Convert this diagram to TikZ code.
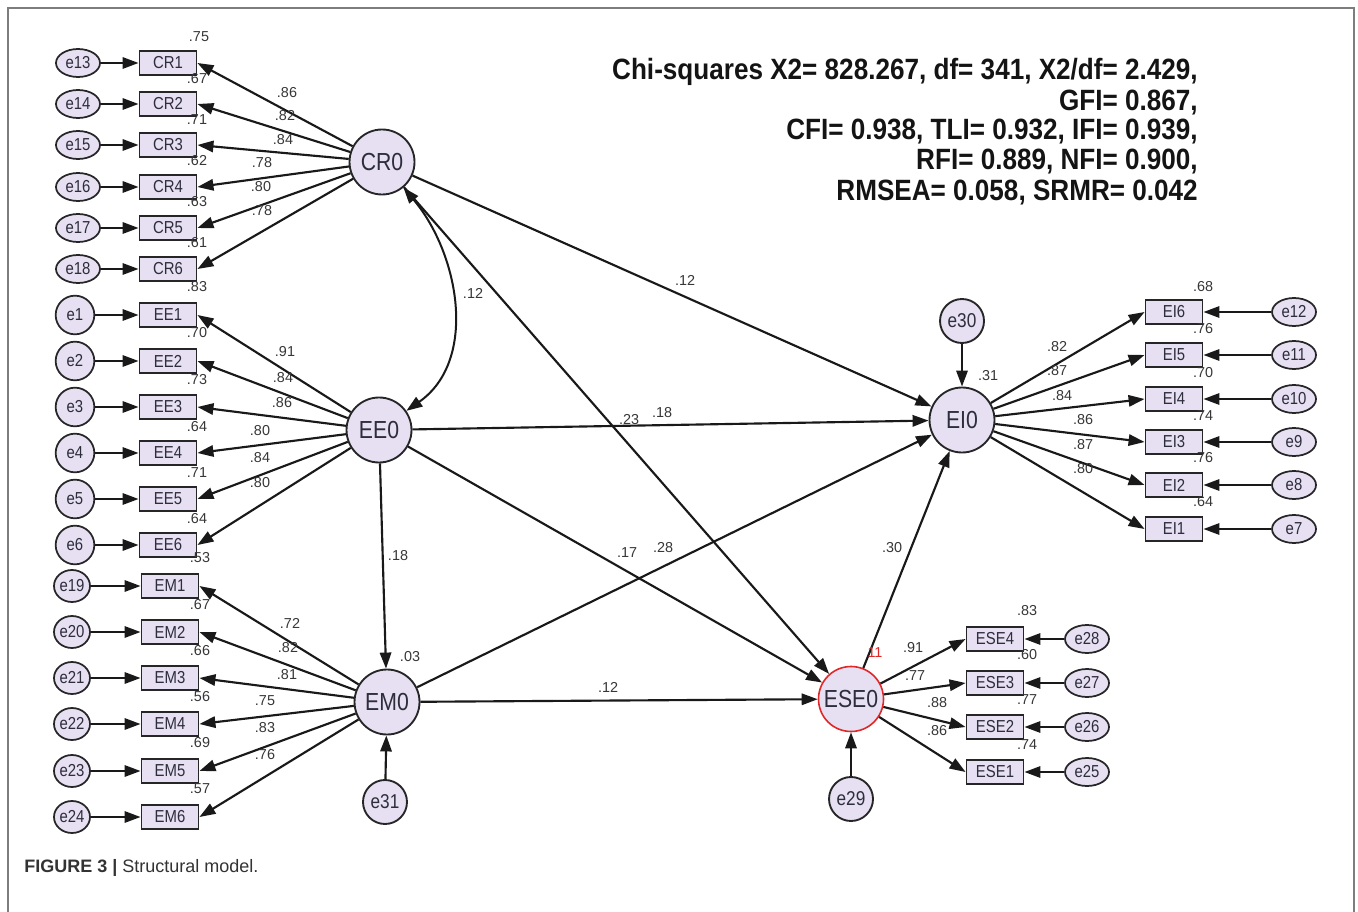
\documentclass[tikz,border=0pt]{standalone}
\usepackage{fontspec}
\setmainfont{Liberation Sans}
\newfontfamily\narrowfont[FakeStretch=0.86]{Liberation Sans}
\newfontfamily\fitfont[FakeStretch=0.89]{Liberation Sans}
\usetikzlibrary{arrows.meta,shapes.geometric}
\definecolor{nodefill}{RGB}{231,223,242}
\definecolor{txt}{RGB}{45,45,60}
\definecolor{labtxt}{RGB}{55,55,55}
\definecolor{framegray}{RGB}{125,125,125}
\definecolor{redamos}{RGB}{225,40,40}
\newcommand\numlab[3]{\node[numlab] (#1) at (#2) {#3};}
\begin{document}
\begin{tikzpicture}[x=0.75pt,y=-0.75pt,
  lat/.style={circle,draw=black!85,line width=1.4pt,fill=nodefill,minimum size=48.75pt,inner sep=0pt,font=\narrowfont\fontsize{18.5}{19}\selectfont,text=txt},
  obs/.style={rectangle,draw=black!85,line width=1.4pt,fill=nodefill,minimum width=42.75pt,minimum height=18pt,inner sep=0pt,font=\narrowfont\fontsize{13}{13}\selectfont,text=txt},
  errell/.style={ellipse,draw=black!85,line width=1.3pt,fill=nodefill,minimum width=33pt,minimum height=21pt,inner sep=0pt,font=\narrowfont\fontsize{13}{13}\selectfont,text=txt},
  errcirc/.style={circle,draw=black!85,line width=1.3pt,fill=nodefill,minimum size=29pt,inner sep=0pt,font=\narrowfont\fontsize{13}{13}\selectfont,text=txt},
  errsm/.style={ellipse,draw=black!85,line width=1.3pt,fill=nodefill,minimum width=27pt,minimum height=24pt,inner sep=0pt,font=\narrowfont\fontsize{13}{13}\selectfont,text=txt},
  errbig/.style={circle,draw=black!85,line width=1.4pt,fill=nodefill,minimum size=33pt,inner sep=0pt,font=\narrowfont\fontsize{15}{15}\selectfont,text=txt},
  numlab/.style={font=\fontsize{10.8}{11}\selectfont,text=labtxt,inner sep=0pt},
  arr/.style={line width=1.6pt,draw=black!90,-{Triangle[length=12pt,width=8.5pt]}},
  darr/.style={line width=1.5pt,draw=black!90,{Triangle[length=12pt,width=8.5pt]}-{Triangle[length=12pt,width=8.5pt]}},
  fit/.style={font=\fitfont\bfseries\fontsize{22}{22}\selectfont,text=black!92,inner sep=0pt,anchor=east}
]
\useasboundingbox (0,0) rectangle (1358,912);
\fill[white] (0,0) rectangle (1358,912);
% frame
\draw[framegray,line width=1.5pt] (8,912) -- (8,8) -- (1354,8) -- (1354,912);

% latent variables
\node[lat] (CR0) at (382,162) {CR0};
\node[lat] (EE0) at (379,430) {EE0};
\node[lat] (EM0) at (387,702) {EM0};
\node[lat] (EI0) at (962,420) {EI0};
\node[lat,draw=redamos,line width=1.2pt] (ESE0) at (851,699) {ESE0};
\node[errbig] (e30) at (962,321) {e30};
\node[errbig] (e31) at (385,802) {e31};
\node[errbig] (e29) at (851,799) {e29};

% CR block
\foreach \i/\y/\e in {1/63/e13,2/104/e14,3/145/e15,4/187/e16,5/228/e17,6/269/e18}{
  \node[obs] (CR\i) at (168,\y) {CR\i};
  \node[errell] (\e) at (78,\y) {\e};
  \draw[arr] (\e) -- (CR\i.west);
  \draw[arr] (CR0) -- (CR\i.east);
}
% EE block
\foreach \i/\y in {1/315,2/361,3/407,4/453,5/499,6/545}{
  \node[obs] (EE\i) at (168,\y) {EE\i};
  \node[errcirc] (e\i) at (75,\y) {e\i};
  \draw[arr] (e\i) -- (EE\i.west);
  \draw[arr] (EE0) -- (EE\i.east);
}
% EM block
\foreach \i/\y/\e in {1/586/e19,2/632/e20,3/678/e21,4/724/e22,5/771/e23,6/817/e24}{
  \node[obs] (EM\i) at (170,\y) {EM\i};
  \node[errsm] (\e) at (72,\y) {\e};
  \draw[arr] (\e) -- (EM\i.west);
  \draw[arr] (EM0) -- (EM\i.east);
}
% EI block
\foreach \i/\y/\e in {6/312/e12,5/355/e11,4/399/e10,3/442/e9,2/485/e8,1/529/e7}{
  \node[obs] (EI\i) at (1174,\y) {EI\i};
  \node[errell] (\e) at (1294,\y) {\e};
  \draw[arr] (\e) -- (EI\i.east);
  \draw[arr] (EI0) -- (EI\i.west);
}
% ESE block
\foreach \i/\y/\e in {4/639/e28,3/683/e27,2/727/e26,1/772/e25}{
  \node[obs] (ESE\i) at (995,\y) {ESE\i};
  \node[errell] (\e) at (1087,\y) {\e};
  \draw[arr] (\e) -- (ESE\i.east);
  \draw[arr] (ESE0) -- (ESE\i.west);
}

% structural paths
\draw[arr] (CR0) -- (EI0);
\draw[arr] (CR0) -- (ESE0);
\draw[arr] (EE0) -- (EI0);
\draw[arr] (EE0) -- (ESE0);
\draw[arr] (EE0) -- (EM0);
\draw[arr] (EM0) -- (EI0);
\draw[arr] (EM0) -- (ESE0);
\draw[arr] (ESE0) -- (EI0);
\draw[arr] (e30) -- (EI0);
\draw[arr] (e31) -- (EM0);
\draw[arr] (e29) -- (ESE0);
\draw[darr] (CR0) to[out=-50,in=35,looseness=1.0] (EE0);

% CR labels
\numlab{a1}{287,93}{.86}
\numlab{a2}{285,116}{.82}
\numlab{a3}{283,140}{.84}
\numlab{a4}{262,163}{.78}
\numlab{a5}{261,187}{.80}
\numlab{a6}{262,211}{.78}
\numlab{r1}{199,37}{.75}
\numlab{r2}{197,79}{.67}
\numlab{r3}{197,120}{.71}
\numlab{r4}{197,161}{.62}
\numlab{r5}{197,202}{.63}
\numlab{r6}{197,243}{.61}
% EE labels
\numlab{r7}{197,287}{.83}
\numlab{r8}{197,333}{.70}
\numlab{r9}{197,380}{.73}
\numlab{r10}{197,427}{.64}
\numlab{r11}{197,473}{.71}
\numlab{r12}{197,519}{.64}
\numlab{b1}{285,352}{.91}
\numlab{b2}{283,378}{.84}
\numlab{b3}{282,403}{.86}
\numlab{b4}{260,431}{.80}
\numlab{b5}{260,458}{.84}
\numlab{b6}{260,483}{.80}
% EM labels
\numlab{r13}{200,558}{.53}
\numlab{r14}{200,605}{.67}
\numlab{r15}{200,651}{.66}
\numlab{r16}{200,697}{.56}
\numlab{r17}{200,743}{.69}
\numlab{r18}{200,789}{.57}
\numlab{c1}{290,623}{.72}
\numlab{c2}{288,648}{.82}
\numlab{c3}{287,675}{.81}
\numlab{c4}{265,701}{.75}
\numlab{c5}{265,728}{.83}
\numlab{c6}{265,755}{.76}
\numlab{sq1}{410,657}{.03}
\numlab{p1}{398,556}{.18}
% EI labels
\numlab{r19}{1203,287}{.68}
\numlab{r20}{1203,329}{.76}
\numlab{r21}{1203,373}{.70}
\numlab{r22}{1203,416}{.74}
\numlab{r23}{1203,458}{.76}
\numlab{r24}{1203,502}{.64}
\numlab{d1}{1057,347}{.82}
\numlab{d2}{1057,371}{.87}
\numlab{d3}{1062,396}{.84}
\numlab{d4}{1083,420}{.86}
\numlab{d5}{1083,445}{.87}
\numlab{d6}{1083,469}{.80}
\numlab{sq2}{988,376}{.31}
% ESE labels
\numlab{r25}{1027,611}{.83}
\numlab{r26}{1027,655}{.60}
\numlab{r27}{1027,700}{.77}
\numlab{r28}{1027,745}{.74}
\numlab{f1}{913,648}{.91}
\numlab{f2}{915,676}{.77}
\numlab{f3}{937,703}{.88}
\numlab{f4}{937,731}{.86}
\node[numlab,text=redamos] (sq3) at (875,653) {11};
% structural labels
\numlab{p2}{473,293}{.12}
\numlab{p3}{685,280}{.12}
\numlab{p4}{629,420}{.23}
\numlab{p5}{662,413}{.18}
\numlab{p6}{627,553}{.17}
\numlab{p7}{663,548}{.28}
\numlab{p8}{892,548}{.30}
\numlab{p9}{608,687}{.12}

% fit indices
\node[fit] (fit1) at (1198,72) {Chi-squares X2= 828.267, df= 341, X2/df= 2.429,};
\node[fit] (fit2) at (1198,103) {GFI= 0.867,};
\node[fit] (fit3) at (1198,132) {CFI= 0.938, TLI= 0.932, IFI= 0.939,};
\node[fit] (fit4) at (1198,162) {RFI= 0.889, NFI= 0.900,};
\node[fit] (fit5) at (1198,193) {RMSEA= 0.058, SRMR= 0.042};

% caption
\node[anchor=west,inner sep=0pt,font=\fontsize{13.5}{14}\selectfont,text=black!80] (cap) at (24,868) {\textbf{FIGURE 3 |} Structural model.};
\end{tikzpicture}
\end{document}
